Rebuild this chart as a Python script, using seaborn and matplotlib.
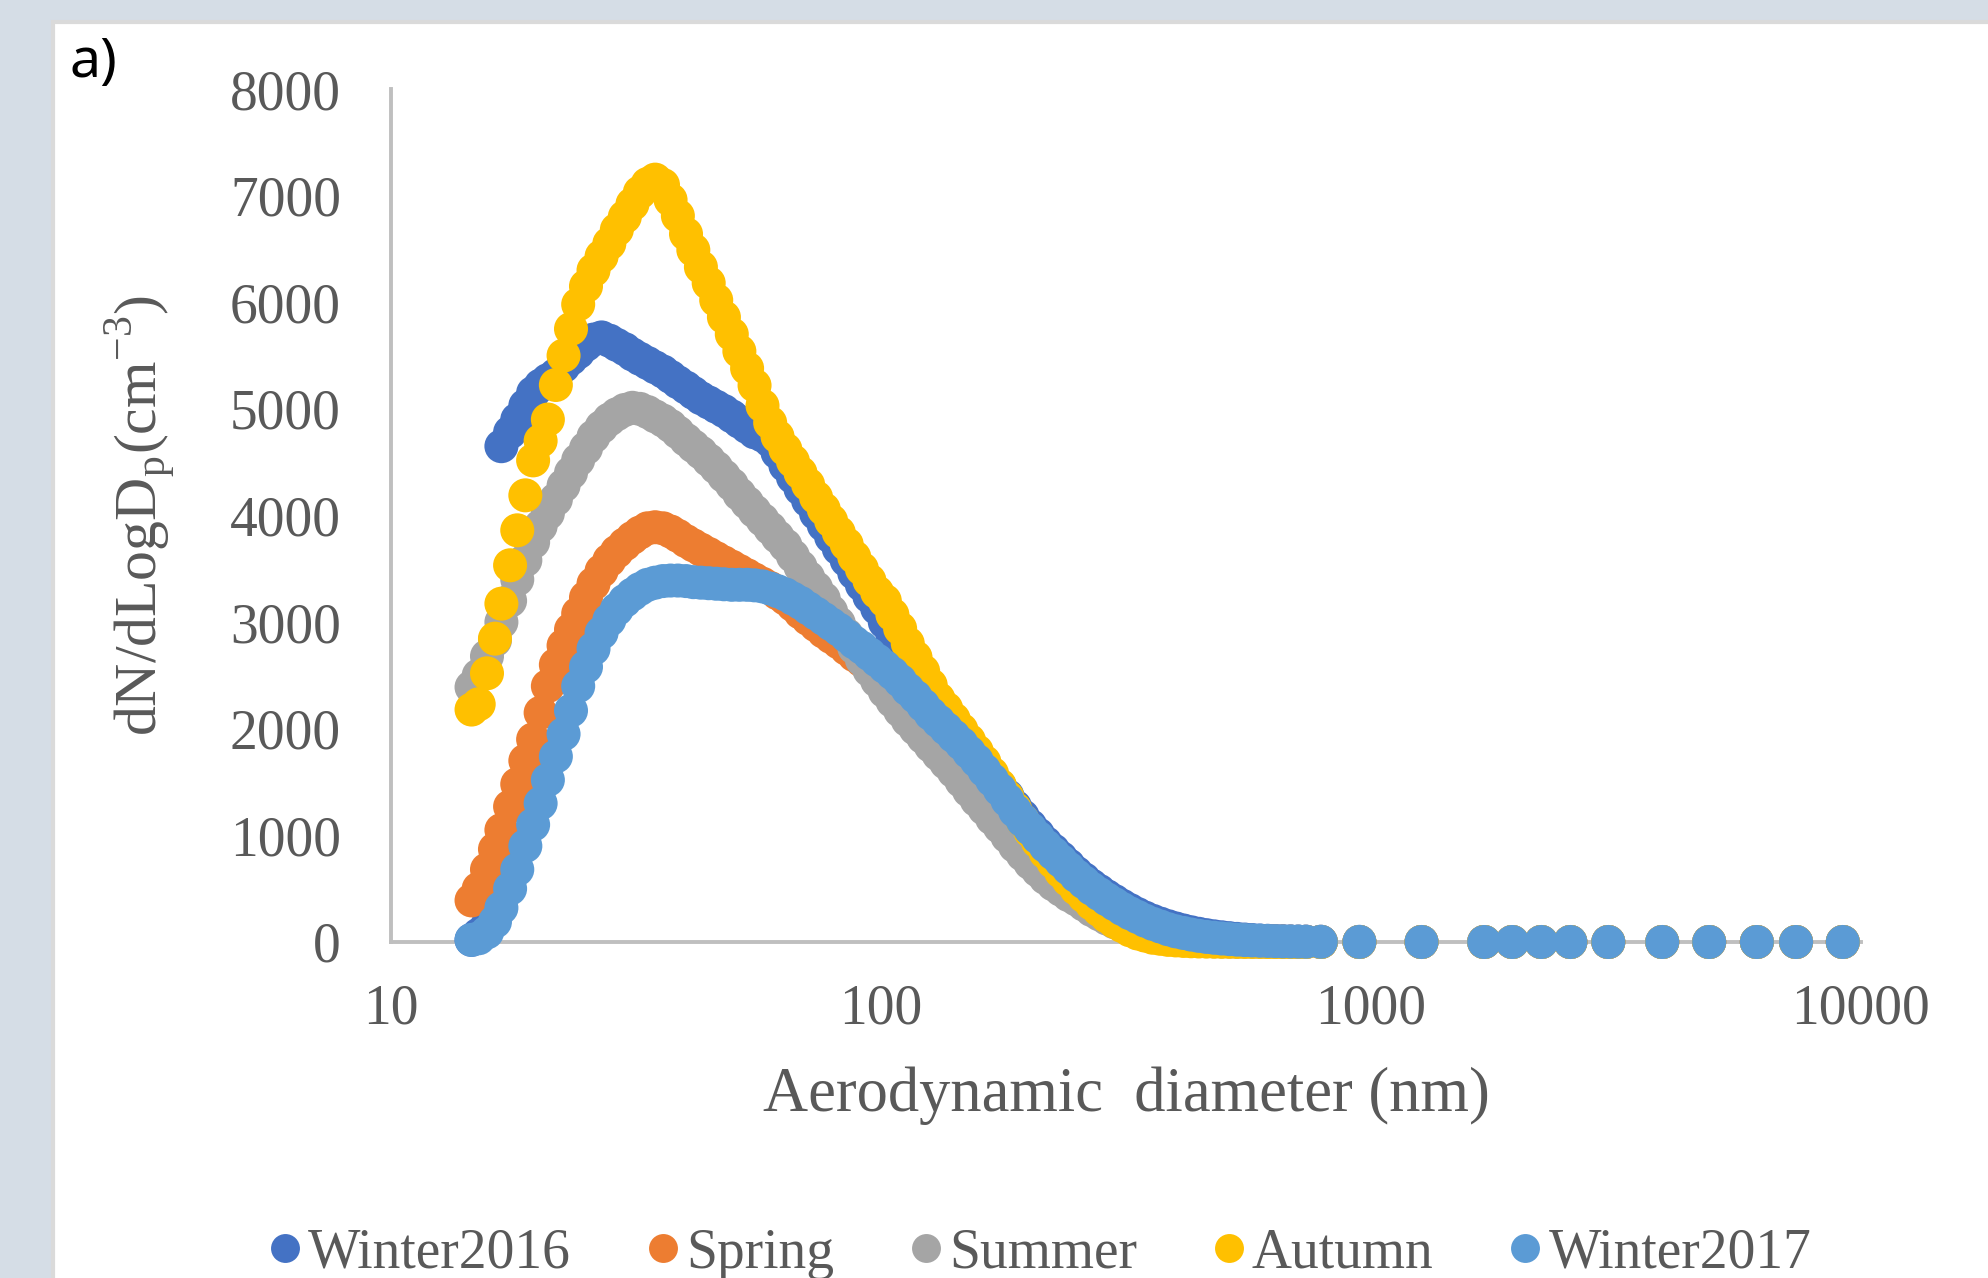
import numpy as np
import pandas as pd
import matplotlib
matplotlib.use("Agg")
import matplotlib.pyplot as plt
from matplotlib.patches import Rectangle
import seaborn as sns

# SMPS channels (64 per decade) followed by the coarse channels above 700 nm
diam_nm = [
    14.6, 15.1, 15.7, 16.3, 16.8, 17.5, 18.1, 18.8, 19.5,
    20.2, 20.9, 21.7, 22.5, 23.3, 24.1, 25.0, 25.9, 26.9, 27.9,
    28.9, 30.0, 31.1, 32.2, 33.4, 34.6, 35.9, 37.2, 38.5, 40.0,
    41.4, 42.9, 44.5, 46.1, 47.8, 49.6, 51.4, 53.3, 55.2, 57.3,
    59.4, 61.5, 63.8, 66.1, 68.5, 71.0, 73.7, 76.4, 79.1, 82.0,
    85.1, 88.2, 91.4, 94.7, 98.2, 101.8, 105.5, 109.4, 113.4, 117.6,
    121.9, 126.3, 131.0, 135.8, 140.7, 145.9, 151.2, 156.8, 162.5, 168.5,
    174.7, 181.1, 187.7, 194.6, 201.7, 209.1, 216.7, 224.7, 232.9, 241.4,
    250.3, 259.5, 269.0, 278.8, 289.0, 299.6, 310.6, 322.0, 333.8, 346.0,
    358.7, 371.8, 385.4, 399.5, 414.2, 429.4, 445.1, 461.4, 478.3, 495.8,
    514.0, 532.8, 552.3, 572.5, 593.5, 615.3, 637.8, 661.2, 685.4, 710.5,
    736.5,
    790, 947, 1268, 1702, 1942, 2226, 2552, 3050, 3930, 4900, 6130, 7370, 9180,
]

winter2016 = [
    20, 70, 150, 250, 4650, 4780, 4900, 5030, 5150,
    5220, 5270, 5320, 5400, 5470, 5530, 5600, 5650, 5670, 5640,
    5600, 5560, 5510, 5470, 5430, 5390, 5350, 5300, 5250, 5200,
    5150, 5100, 5060, 5020, 4980, 4930, 4880, 4830, 4780, 4750,
    4700, 4590, 4470, 4360, 4250, 4140, 4020, 3910, 3800, 3690,
    3580, 3460, 3350, 3240, 3130, 3000, 2880, 2770, 2660, 2550,
    2440, 2340, 2240, 2140, 2040, 1950, 1850, 1750, 1650, 1550,
    1460, 1370, 1270, 1180, 1090, 1010, 930, 860, 790, 720,
    650, 590, 530, 480, 430, 385, 340, 300, 262, 228,
    198, 172, 148, 127, 108, 91, 77, 64, 53, 44,
    36, 29, 23, 18, 14, 11, 9, 7, 5, 4,
    3,
    2, 1, 0, 0, 0, 0, 0, 0, 0, 0, 0, 0, 0,
]

spring = [
    390, 500, 680, 870, 1050, 1270, 1480, 1700, 1900,
    2150, 2400, 2600, 2780, 2930, 3080, 3230, 3360, 3480, 3580,
    3660, 3730, 3790, 3840, 3880, 3890, 3880, 3850, 3810, 3760,
    3720, 3680, 3640, 3600, 3560, 3520, 3480, 3440, 3400, 3360,
    3320, 3270, 3220, 3160, 3090, 3030, 2970, 2910, 2860, 2810,
    2750, 2690, 2640, 2590, 2530, 2470, 2410, 2340, 2270, 2200,
    2120, 2040, 1960, 1880, 1800, 1720, 1640, 1550, 1460, 1370,
    1280, 1190, 1100, 1010, 930, 850, 780, 710, 640, 580,
    520, 460, 410, 360, 320, 280, 240, 210, 180, 155,
    130, 110, 95, 80, 66, 55, 45, 37, 30, 25,
    20, 16, 13, 10, 8, 6, 5, 4, 3, 2,
    2,
    1, 0, 0, 0, 0, 0, 0, 0, 0, 0, 0, 0, 0,
]

summer = [
    2390, 2500, 2680, 2830, 3000, 3200, 3400, 3580, 3750,
    3900, 4020, 4150, 4280, 4400, 4520, 4630, 4740, 4830, 4900,
    4950, 4990, 5010, 5000, 4970, 4930, 4890, 4840, 4780, 4710,
    4650, 4590, 4520, 4450, 4370, 4290, 4200, 4120, 4040, 3960,
    3880, 3800, 3720, 3620, 3520, 3420, 3320, 3220, 3100, 2990,
    2880, 2760, 2650, 2550, 2450, 2350, 2260, 2170, 2080, 2000,
    1920, 1840, 1760, 1680, 1600, 1510, 1420, 1330, 1250, 1160,
    1080, 990, 900, 820, 740, 670, 600, 540, 490, 440,
    400, 350, 300, 260, 220, 185, 155, 125, 100, 80,
    62, 48, 36, 27, 20, 15, 11, 8, 6, 5,
    4, 3, 3, 2, 2, 1, 1, 1, 1, 0,
    0,
    0, 0, 0, 0, 0, 0, 0, 0, 0, 0, 0, 0, 0,
]

autumn = [
    2180, 2230, 2520, 2845, 3173, 3533, 3861, 4189, 4517,
    4700, 4900, 5224, 5500, 5750, 5980, 6150, 6300, 6430, 6550,
    6680, 6800, 6920, 7030, 7110, 7150, 7100, 6960, 6810, 6640,
    6490, 6330, 6180, 6020, 5860, 5700, 5540, 5380, 5220, 5030,
    4870, 4740, 4620, 4510, 4400, 4290, 4170, 4060, 3950, 3840,
    3730, 3610, 3500, 3390, 3280, 3200, 3070, 2940, 2800, 2670,
    2540, 2410, 2280, 2190, 2090, 1990, 1890, 1790, 1690, 1580,
    1470, 1360, 1250, 1140, 1040, 940, 840, 750, 660, 580,
    500, 430, 360, 300, 240, 190, 150, 110, 80, 60,
    40, 30, 20, 15, 10, 7, 5, 4, 3, 2,
    2, 1, 1, 1, 1, 0, 0, 0, 0, 0,
    0,
    0, 0, 0, 0, 0, 0, 0, 0, 0, 0, 0, 0, 0,
]

winter2017 = [
    20, 35, 90, 190, 320, 500, 680, 900, 1100,
    1300, 1520, 1740, 1950, 2170, 2400, 2580, 2750, 2900, 3020,
    3120, 3200, 3260, 3310, 3350, 3370, 3385, 3390, 3390, 3385,
    3375, 3370, 3365, 3360, 3355, 3350, 3350, 3350, 3345, 3335,
    3315, 3290, 3260, 3220, 3180, 3130, 3080, 3030, 2980, 2930,
    2870, 2810, 2760, 2700, 2640, 2580, 2520, 2450, 2370, 2300,
    2220, 2140, 2070, 2000, 1930, 1860, 1780, 1700, 1610, 1520,
    1430, 1330, 1230, 1140, 1060, 980, 900, 830, 760, 690,
    620, 560, 500, 450, 400, 355, 310, 270, 235, 200,
    170, 145, 120, 100, 85, 70, 58, 48, 40, 33,
    27, 22, 18, 15, 12, 10, 8, 6, 5, 4,
    3,
    2, 1, 0, 0, 0, 0, 0, 0, 0, 0, 0, 0, 0,
]

seasons = ["Winter2016", "Spring", "Summer", "Autumn", "Winter2017"]
colors = ["#4472C4", "#ED7D31", "#A5A5A5", "#FFC000", "#5B9BD5"]
x_ticks = [10, 100, 1000, 10000]
x_ticklabels = ["10", "100", "1000", "10000"]
y_ticks = [0, 1000, 2000, 3000, 4000, 5000, 6000, 7000, 8000]

# long-form table, rows in series order so later seasons draw on top
frames = []
for name, vals in zip(seasons, [winter2016, spring, summer, autumn, winter2017]):
    frames.append(pd.DataFrame({"diameter": diam_nm, "dN": vals, "season": name}))
df = pd.concat(frames, ignore_index=True)

sns.set_style("white")
plt.rcParams["font.family"] = ["Liberation Serif", "DejaVu Serif"]
plt.rcParams["mathtext.fontset"] = "custom"
plt.rcParams["mathtext.rm"] = "Liberation Serif"

TEXT = "#595959"
AXIS = "#BFBFBF"

fig = plt.figure(figsize=(19.88, 12.78), dpi=100)
fig.patch.set_facecolor("#D5DDE6")
fig.patches.append(Rectangle((53 / 1988, -0.01), 1.0, (1278 - 22) / 1278 + 0.01,
                             transform=fig.transFigure, facecolor="white",
                             edgecolor="#DADADA", linewidth=3, zorder=-10))

ax = fig.add_axes([391 / 1988, 336 / 1278, 1470 / 1988, 853 / 1278])
ax.set_facecolor("none")
ax.set_zorder(1)

sns.scatterplot(data=df, x="diameter", y="dN", hue="season", hue_order=seasons,
                palette=colors, s=600, linewidth=0, alpha=1, ax=ax,
                zorder=3, clip_on=False)

ax.set_xscale("log")
ax.set_xlim(10, 10000)
ax.set_ylim(0, 8000)
ax.set_xticks(x_ticks)
ax.set_xticklabels(x_ticklabels)
ax.set_yticks(y_ticks)
ax.set_yticklabels([str(v) for v in y_ticks])

for side in ["top", "right"]:
    ax.spines[side].set_visible(False)
for side in ["left", "bottom"]:
    ax.spines[side].set_color(AXIS)
    ax.spines[side].set_linewidth(2.8)
    ax.spines[side].set_zorder(1)

ax.tick_params(axis="x", which="major", direction="in", length=11, width=2.2,
               color=AXIS, labelsize=40, labelcolor=TEXT, pad=30)
ax.tick_params(axis="x", which="minor", direction="in", length=6.5, width=2.2,
               color=AXIS)
ax.tick_params(axis="y", length=0, labelsize=40, labelcolor=TEXT, pad=36)

ax.set_xlabel("Aerodynamic  diameter (nm)", fontsize=45, color=TEXT, labelpad=22)
ax.set_ylabel(r"dN/dLogD$_\mathregular{p}$(cm$^\mathregular{-3}$)", fontsize=43, color=TEXT)
ax.yaxis.set_label_coords(-0.145, 0.5)

handles, labels = ax.get_legend_handles_labels()
ax.legend(handles, labels, loc="center", bbox_to_anchor=(0.523, 0.019),
          bbox_transform=fig.transFigure, ncol=5, frameon=False,
          fontsize=40, labelcolor=TEXT, markerscale=0.85,
          handlelength=0.6, handletextpad=0.12, columnspacing=1.35)

fig.text(70 / 1988, 1 - 62 / 1278, "a)", family="Noto Sans", fontsize=40,
         color="black", va="center", ha="left")

fig.savefig("out.png", dpi=100, facecolor=fig.get_facecolor())
